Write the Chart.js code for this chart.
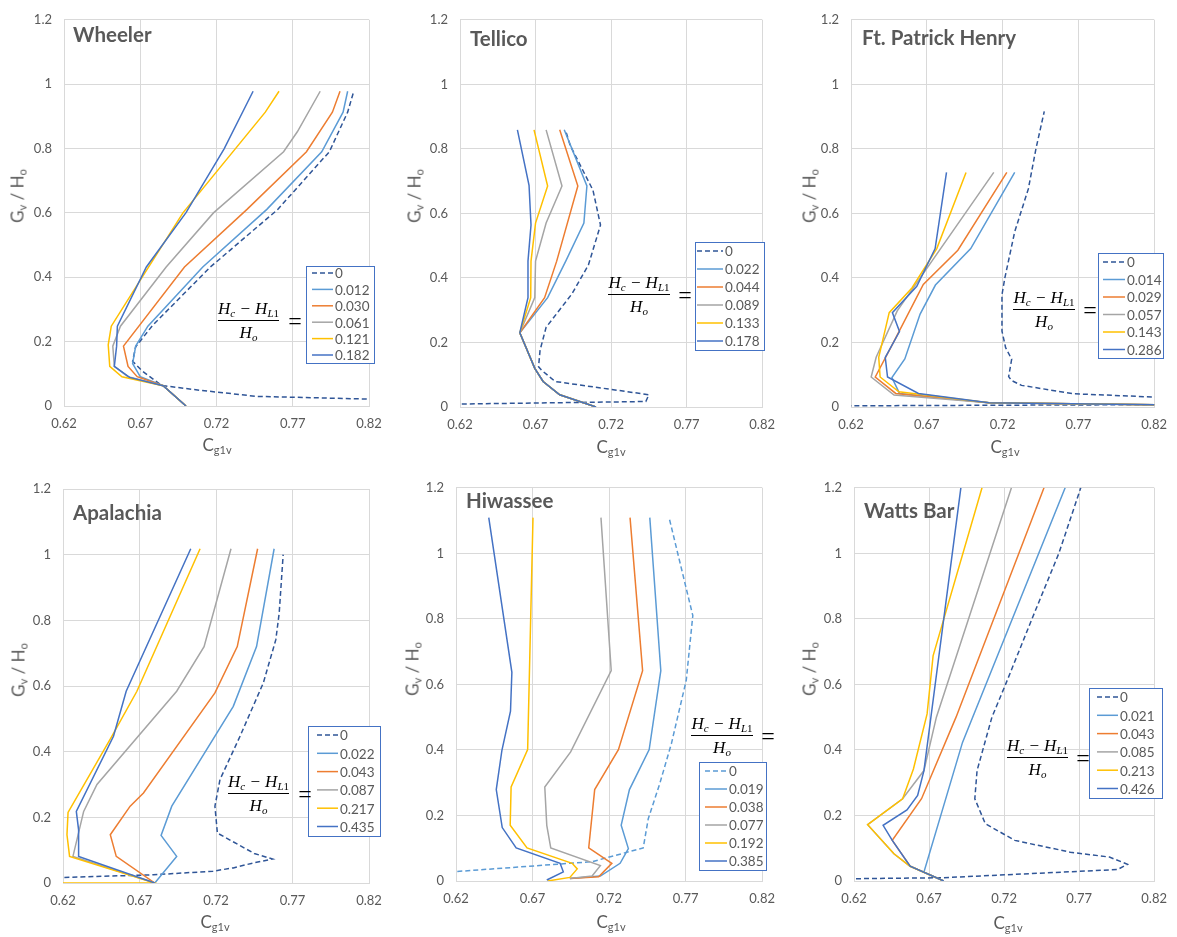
<!DOCTYPE html>
<html>
<head>
<meta charset="utf-8">
<script src="https://cdn.jsdelivr.net/npm/chart.js@4.4.0/dist/chart.umd.min.js"></script>
<style>
  body { margin: 0; background: #fff; width: 1177px; height: 937px; overflow: hidden; position: relative; font-family: Lato, sans-serif; }
  canvas { position: absolute; }
  .t { position: absolute; white-space: nowrap; transform: translate(-50%, -50%); line-height: 1; }
  .name { position: absolute; white-space: nowrap; transform: translate(0, -50%); font: bold 20.5px Lato, sans-serif; color: #595959; line-height: 1; }
  .ax { font-size: 17px; color: #595959; }
  .ax sub { font-size: 11px; vertical-align: -3px; }
  .yt { transform: translate(-50%, -50%) rotate(-90deg); }
  .fr { font: italic 17px 'Liberation Serif', serif; color: #000; }
  .fr sub { font-size: 11px; vertical-align: -3px; }
  .fr .up { font-style: normal; }
  .eq { font: 24px 'Liberation Serif', serif; color: #000; }
  .bar { position: absolute; height: 1px; background: #000; }
</style>
</head>
<body>
<script>
// axis ticks (shared by all six panels)
const xTicks = [0.62, 0.67, 0.72, 0.77, 0.82];
const yTicks = [0, 0.2, 0.4, 0.6, 0.8, 1, 1.2];

// each series is a list of [Cg1v, Gv/Ho] points, first series is the dashed "0" curve
const wheelerLabels = ['0', '0.012', '0.030', '0.061', '0.121', '0.182'];
const wheelerSeries = [
  [[0.85, 0.018], [0.746, 0.03], [0.709, 0.049], [0.684, 0.064], [0.671, 0.11], [0.665, 0.139], [0.667, 0.184], [0.678, 0.25], [0.716, 0.432], [0.760, 0.61], [0.794, 0.79], [0.806, 0.913], [0.810, 0.978]],
  [[0.700, 0], [0.685, 0.063], [0.670, 0.091], [0.665, 0.132], [0.667, 0.186], [0.675, 0.248], [0.711, 0.432], [0.753, 0.611], [0.789, 0.79], [0.803, 0.913], [0.806, 0.978]],
  [[0.700, 0], [0.685, 0.063], [0.668, 0.091], [0.662, 0.123], [0.659, 0.186], [0.699, 0.432], [0.740, 0.611], [0.779, 0.79], [0.796, 0.913], [0.801, 0.978]],
  [[0.700, 0], [0.685, 0.063], [0.662, 0.091], [0.653, 0.123], [0.652, 0.186], [0.657, 0.248], [0.687, 0.432], [0.718, 0.60], [0.764, 0.79], [0.773, 0.852], [0.788, 0.978]],
  [[0.700, 0], [0.685, 0.063], [0.658, 0.091], [0.650, 0.123], [0.649, 0.19], [0.651, 0.248], [0.672, 0.406], [0.698, 0.60], [0.752, 0.913], [0.761, 0.978]],
  [[0.700, 0], [0.685, 0.063], [0.663, 0.089], [0.653, 0.123], [0.6545, 0.186], [0.655, 0.248], [0.674, 0.432], [0.700, 0.601], [0.725, 0.799], [0.744, 0.978]]
];

const tellicoLabels = ['0', '0.022', '0.044', '0.089', '0.133', '0.178'];
const tellicoSeries = [
  [[0.60, 0.008], [0.743, 0.017], [0.745, 0.038], [0.683, 0.079], [0.674, 0.114], [0.672, 0.125], [0.673, 0.176], [0.677, 0.247], [0.694, 0.35], [0.705, 0.44], [0.713, 0.564], [0.708, 0.672], [0.693, 0.81], [0.690, 0.855]],
  [[0.710, 0], [0.686, 0.038], [0.675, 0.079], [0.6695, 0.12], [0.6596, 0.23], [0.678, 0.339], [0.690, 0.452], [0.702, 0.57], [0.704, 0.685], [0.689, 0.859]],
  [[0.710, 0], [0.686, 0.038], [0.675, 0.079], [0.6695, 0.12], [0.6596, 0.23], [0.676, 0.339], [0.684, 0.452], [0.698, 0.685], [0.686, 0.859]],
  [[0.710, 0], [0.686, 0.038], [0.675, 0.079], [0.6695, 0.12], [0.6596, 0.23], [0.6695, 0.339], [0.670, 0.452], [0.677, 0.57], [0.6875, 0.685], [0.677, 0.859]],
  [[0.710, 0], [0.686, 0.038], [0.675, 0.079], [0.6695, 0.12], [0.6596, 0.23], [0.6668, 0.339], [0.667, 0.452], [0.670, 0.57], [0.678, 0.685], [0.669, 0.859]],
  [[0.710, 0], [0.686, 0.038], [0.675, 0.079], [0.6695, 0.12], [0.6596, 0.23], [0.665, 0.339], [0.665, 0.452], [0.667, 0.564], [0.6657, 0.687], [0.658, 0.859]]
];

const patrickLabels = ['0', '0.014', '0.029', '0.057', '0.143', '0.286'];
const patrickSeries = [
  [[0.58, 0.003], [0.86, 0.008], [0.84, 0.027], [0.767, 0.041], [0.7325, 0.067], [0.726, 0.082], [0.724, 0.094], [0.726, 0.148], [0.722, 0.184], [0.7196, 0.235], [0.7196, 0.348], [0.7215, 0.40], [0.728, 0.543], [0.737, 0.676], [0.742, 0.80], [0.7475, 0.916]],
  [[0.84, 0.006], [0.711, 0.013], [0.652, 0.042], [0.647, 0.091], [0.6555, 0.149], [0.6656, 0.288], [0.6757, 0.378], [0.699, 0.491], [0.728, 0.727]],
  [[0.84, 0.006], [0.711, 0.013], [0.6495, 0.042], [0.636, 0.093], [0.6463, 0.185], [0.6677, 0.38], [0.6905, 0.486], [0.7228, 0.727]],
  [[0.84, 0.006], [0.711, 0.013], [0.6484, 0.037], [0.6333, 0.093], [0.6366, 0.154], [0.6505, 0.298], [0.7142, 0.727]],
  [[0.84, 0.006], [0.711, 0.013], [0.6516, 0.047], [0.6392, 0.093], [0.6383, 0.154], [0.6452, 0.2925], [0.6602, 0.369], [0.6766, 0.491], [0.6959, 0.727]],
  [[0.84, 0.006], [0.711, 0.013], [0.6645, 0.042], [0.6441, 0.093], [0.6426, 0.154], [0.652, 0.234], [0.6473, 0.2925], [0.6634, 0.374], [0.6755, 0.491], [0.683, 0.727]]
];

const apalachiaLabels = ['0', '0.022', '0.043', '0.087', '0.217', '0.435'];
const apalachiaSeries = [
  [[0.60, 0.014], [0.679, 0.025], [0.718, 0.036], [0.7313, 0.046], [0.7443, 0.061], [0.757, 0.073], [0.745, 0.09], [0.7209, 0.152], [0.7193, 0.234], [0.7226, 0.315], [0.7357, 0.447], [0.7509, 0.609], [0.7591, 0.741], [0.7613, 0.822], [0.7639, 1.0]],
  [[0.680, 0], [0.6943, 0.081], [0.6841, 0.145], [0.6911, 0.234], [0.7313, 0.538], [0.7465, 0.72], [0.758, 1.018]],
  [[0.680, 0], [0.6548, 0.081], [0.6509, 0.147], [0.6639, 0.234], [0.6726, 0.274], [0.7193, 0.579], [0.7339, 0.72], [0.7472, 1.018]],
  [[0.680, 0], [0.6265, 0.081], [0.6335, 0.218], [0.6422, 0.30], [0.6943, 0.584], [0.7122, 0.72], [0.7298, 1.018]],
  [[0.60, 0], [0.680, 0], [0.6243, 0.081], [0.6226, 0.147], [0.6233, 0.215], [0.652, 0.447], [0.6683, 0.584], [0.7096, 1.018]],
  [[0.680, 0], [0.6302, 0.081], [0.6302, 0.162], [0.6287, 0.218], [0.653, 0.447], [0.6613, 0.584], [0.7035, 1.018]]
];

const hiwasseeLabels = ['0', '0.019', '0.038', '0.077', '0.192', '0.385'];
const hiwasseeSeries = [
  [[0.60, 0.022], [0.709, 0.059], [0.7423, 0.101], [0.7456, 0.19], [0.7531, 0.297], [0.7607, 0.419], [0.7704, 0.612], [0.7747, 0.81], [0.7592, 1.109]],
  [[0.6944, 0.008], [0.7143, 0.015], [0.7272, 0.054], [0.7326, 0.099], [0.7279, 0.17], [0.7333, 0.279], [0.7462, 0.401], [0.7538, 0.642], [0.7466, 1.109]],
  [[0.6944, 0.008], [0.7132, 0.013], [0.7218, 0.054], [0.7067, 0.101], [0.7106, 0.279], [0.7261, 0.401], [0.7419, 0.642], [0.7337, 1.109]],
  [[0.6944, 0.008], [0.7089, 0.015], [0.7143, 0.047], [0.6819, 0.101], [0.6793, 0.17], [0.678, 0.287], [0.6949, 0.394], [0.7214, 0.642], [0.7147, 1.109]],
  [[0.6798, 0], [0.6944, 0.011], [0.6992, 0.037], [0.6959, 0.054], [0.6664, 0.101], [0.6554, 0.17], [0.656, 0.287], [0.6668, 0.401], [0.6703, 1.109]],
  [[0.6793, 0.003], [0.6901, 0.028], [0.688, 0.054], [0.6593, 0.101], [0.6502, 0.163], [0.6463, 0.279], [0.650, 0.399], [0.6556, 0.518], [0.6565, 0.637], [0.6414, 1.109]]
];

const wattsLabels = ['0', '0.021', '0.043', '0.085', '0.213', '0.426'];
const wattsSeries = [
  [[0.60, 0.006], [0.6792, 0.01], [0.7956, 0.035], [0.8022, 0.051], [0.7902, 0.073], [0.7641, 0.088], [0.7271, 0.124], [0.7075, 0.175], [0.7005, 0.251], [0.702, 0.337], [0.7119, 0.5], [0.721, 0.6], [0.7386, 0.8], [0.7565, 1.0], [0.7711, 1.2]],
  [[0.6798, 0], [0.6666, 0.027], [0.6923, 0.423], [0.7607, 1.2]],
  [[0.6798, 0], [0.6574, 0.045], [0.6455, 0.124], [0.665, 0.251], [0.688, 0.5], [0.7466, 1.2]],
  [[0.6798, 0], [0.6574, 0.045], [0.6466, 0.083], [0.6291, 0.172], [0.6524, 0.251], [0.6666, 0.337], [0.6749, 0.5], [0.7249, 1.2]],
  [[0.6798, 0], [0.6574, 0.045], [0.6466, 0.083], [0.6291, 0.172], [0.6524, 0.251], [0.6596, 0.342], [0.6687, 0.51], [0.6727, 0.687], [0.7053, 1.2]],
  [[0.6798, 0], [0.6574, 0.045], [0.6455, 0.124], [0.6394, 0.17], [0.6553, 0.217], [0.6624, 0.261], [0.6666, 0.337], [0.6912, 1.2]]
];

const lineColors = ['#2F5597', '#5B9BD5', '#ED7D31', '#A5A5A5', '#FFC000', '#4472C4'];

// page layout: canvas box, plot area, legend box, fraction, titles
const panels = [
  { name: 'Wheeler', labels: wheelerLabels, series: wheelerSeries, box: [0, 0, 392, 468], area: [64, 15, 369, 406],
    legend: [306, 266, 68, 97, 273, 16.4, 312, 333], frac: [218, 279, 320, 290], nameAt: [73, 34], yTitle: [18, 196], xTitle: [217, 445] },
  { name: 'Tellico', labels: tellicoLabels, series: tellicoSeries, box: [392, 0, 393, 468], area: [460, 16, 763, 407],
    legend: [695, 242, 69, 108, 251, 18, 697, 723], frac: [608, 670, 294, 680], nameAt: [470, 38], yTitle: [415, 196], xTitle: [611, 447] },
  { name: 'Ft. Patrick Henry', labels: patrickLabels, series: patrickSeries, box: [785, 0, 392, 468], area: [851, 16, 1161, 407],
    legend: [1098, 253, 65, 105, 262, 17.5, 1103, 1125], frac: [1013, 1075, 309, 1085], nameAt: [862, 37], yTitle: [810, 196], xTitle: [1005, 447] },
  { name: 'Apalachia', labels: apalachiaLabels, series: apalachiaSeries, box: [0, 468, 392, 469], area: [63, 489, 369, 883],
    legend: [308, 726, 72, 110, 735, 18.3, 317, 338], frac: [228, 289, 793, 300], nameAt: [73, 512], yTitle: [19, 670], xTitle: [215, 922] },
  { name: 'Hiwassee', labels: hiwasseeLabels, series: hiwasseeSeries, box: [392, 468, 393, 469], area: [456, 487, 765, 881],
    legend: [699, 762, 67, 108, 771, 18, 705, 727], frac: [691, 753, 735, 763], nameAt: [466, 500], yTitle: [413, 669], xTitle: [611, 922], lightZero: true },
  { name: 'Watts Bar', labels: wattsLabels, series: wattsSeries, box: [785, 468, 392, 469], area: [854, 487, 1161, 881],
    legend: [1089, 688, 73, 110, 697, 18.3, 1097, 1118], frac: [1007, 1068, 757, 1078], nameAt: [864, 510], yTitle: [810, 669], xTitle: [1008, 923] }
];

const boxLegend = {
  id: 'boxLegend',
  afterDraw(chart, args, o) {
    const ctx = chart.ctx;
    ctx.save();
    ctx.fillStyle = '#fff';
    ctx.fillRect(o.x, o.y, o.w, o.h);
    ctx.strokeStyle = '#4472C4';
    ctx.lineWidth = 1;
    ctx.strokeRect(o.x + 0.5, o.y + 0.5, o.w, o.h);
    chart.data.datasets.forEach((ds, i) => {
      const y = o.row0 + i * o.gap;
      ctx.beginPath();
      ctx.setLineDash(ds.borderDash || []);
      ctx.strokeStyle = ds.borderColor;
      ctx.lineWidth = ds.borderWidth;
      ctx.moveTo(o.l0, y);
      ctx.lineTo(o.l1, y);
      ctx.stroke();
      ctx.setLineDash([]);
      ctx.fillStyle = '#595959';
      ctx.font = '13.5px Lato';
      ctx.textBaseline = 'middle';
      ctx.fillText(ds.label, o.l1 + 2, y + 1);
    });
    ctx.restore();
  }
};

function addText(cls, html, x, y) {
  const d = document.createElement('div');
  d.className = cls;
  d.innerHTML = html;
  d.style.left = x + 'px';
  d.style.top = y + 'px';
  document.body.appendChild(d);
  return d;
}

panels.forEach(p => {
  const [bx, by, bw, bh] = p.box;
  const [al, at, ar, ab] = p.area;
  const cv = document.createElement('canvas');
  cv.width = bw; cv.height = bh;
  cv.style.left = bx + 'px'; cv.style.top = by + 'px';
  document.body.appendChild(cv);

  const n = p.series.length;
  const datasets = p.series.map((pts, i) => ({
    label: p.labels[i],
    data: pts.map(([x, y]) => ({ x, y })),
    borderColor: (i === 0 && p.lightZero) ? '#5B9BD5' : lineColors[i],
    borderWidth: 1.5,
    borderDash: i === 0 ? [5, 3] : [],
    showLine: true,
    pointRadius: 0,
    tension: 0,
    order: n - i
  }));

  const [lx, ly, lw, lh, r0, gap, l0, l1] = p.legend;
  new Chart(cv, {
    type: 'scatter',
    data: { datasets },
    options: {
      responsive: false,
      animation: false,
      layout: { padding: { left: 0, top: at - by, right: bx + bw - ar, bottom: 0 } },
      plugins: {
        legend: { display: false },
        tooltip: { enabled: false },
        boxLegend: { x: lx - bx, y: ly - by, w: lw, h: lh, row0: r0 - by, gap, l0: l0 - bx, l1: l1 - bx }
      },
      scales: {
        x: {
          type: 'linear', min: 0.62, max: 0.82,
          afterBuildTicks: s => { s.ticks = xTicks.map(v => ({ value: v })); },
          afterFit: s => { s.height = by + bh - ab; },
          grid: { color: '#D9D9D9', drawTicks: false },
          border: { color: '#D9D9D9' },
          ticks: { padding: 10, color: '#595959', font: { family: 'Lato', size: 13 }, callback: v => String(v) }
        },
        y: {
          type: 'linear', min: 0, max: 1.2,
          afterBuildTicks: s => { s.ticks = yTicks.map(v => ({ value: v })); },
          afterFit: s => { s.width = al - bx; },
          grid: { color: '#D9D9D9', drawTicks: false },
          border: { color: '#D9D9D9' },
          ticks: { padding: 12, color: '#595959', font: { family: 'Lato', size: 13 }, callback: v => String(v) }
        }
      }
    },
    plugins: [boxLegend]
  });

  addText('name', p.name, p.nameAt[0], p.nameAt[1]);
  addText('t ax yt', 'G<sub>v</sub> / H<sub>o</sub>', p.yTitle[0], p.yTitle[1]);
  addText('t ax', 'C<sub>g1v</sub>', p.xTitle[0], p.xTitle[1]);

  const [f0, f1, fy, eqx] = p.frac;
  const bar = document.createElement('div');
  bar.className = 'bar';
  bar.style.left = f0 + 'px'; bar.style.top = fy + 'px'; bar.style.width = (f1 - f0) + 'px';
  document.body.appendChild(bar);
  addText('t fr', 'H<sub>c</sub> − H<sub>L<span class="up">1</span></sub>', (f0 + f1) / 2, fy - 11);
  addText('t fr', 'H<sub>o</sub>', (f0 + f1) / 2, fy + 13);
  addText('t eq', '=', eqx + 5, fy + 1);
});
</script>
</body>
</html>
